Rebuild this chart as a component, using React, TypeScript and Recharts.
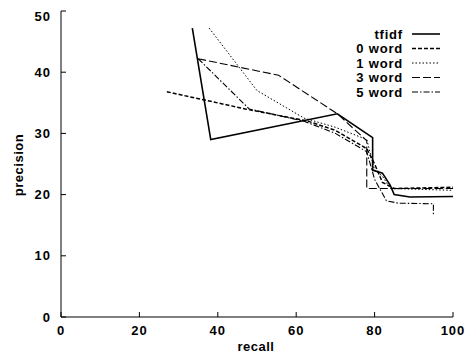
import React from 'react';
import { LineChart, Line, XAxis, YAxis, Legend } from 'recharts';

const xTicks = [0, 20, 40, 60, 80, 100];
const yTicks = [0, 10, 20, 30, 40, 50];

const tfidfRecall = [33.5, 38.2, 70.5, 79.5, 79.5, 82, 84, 85, 89, 100];
const tfidfPrecision = [47.2, 29.0, 33.2, 29.3, 24.0, 23.5, 21.5, 20.0, 19.6, 19.7];

const word0Recall = [27, 47, 63, 70, 78, 80, 82, 85, 100];
const word0Precision = [36.8, 34.0, 32.0, 30.5, 27.5, 25.0, 22.0, 21.0, 21.2];

const word1Recall = [37.8, 50, 62, 70, 78, 80, 82, 84, 100];
const word1Precision = [47.2, 37.0, 32.5, 31.0, 29.0, 24.0, 23.0, 21.0, 20.7];

const word3Recall = [35, 55.5, 70.5, 78, 78, 100];
const word3Precision = [42.2, 39.5, 33.2, 28.8, 21.0, 21.0];

const word5Recall = [35, 48, 62, 70, 78, 80, 83, 86, 95, 95];
const word5Precision = [42.2, 34.0, 32.0, 30.0, 27.0, 22.5, 19.0, 18.6, 18.5, 16.7];

const zip = (xs: number[], ys: number[]) => xs.map((x, i) => ({ x, y: ys[i] }));

const series = [
  { name: 'tfidf', data: zip(tfidfRecall, tfidfPrecision), dash: undefined as string | undefined, width: 1.6 },
  { name: '0 word', data: zip(word0Recall, word0Precision), dash: '4 2', width: 1.5 },
  { name: '1 word', data: zip(word1Recall, word1Precision), dash: '1.5 2', width: 1 },
  { name: '3 word', data: zip(word3Recall, word3Precision), dash: '8 3', width: 1.1 },
  { name: '5 word', data: zip(word5Recall, word5Precision), dash: '6 2 1.5 2', width: 1.1 },
];

const font = '"Liberation Sans", Arial, sans-serif';

const LegendBox = () => (
  <svg width={458} height={100} style={{ position: 'absolute', left: 0, top: 0, overflow: 'visible' }}>
    {series.map((s, i) => {
      const y = 26 + i * 14.5;
      return (
        <g key={s.name}>
          <text
            x={395}
            y={y + 4.5}
            textAnchor="end"
            fontFamily={font}
            fontWeight="bold"
            fontSize={13}
            letterSpacing={0.8}
            fill="#000"
          >
            {s.name}
          </text>
          <line x1={404} x2={432} y1={y} y2={y} stroke="#000" strokeWidth={s.width} strokeDasharray={s.dash} />
        </g>
      );
    })}
  </svg>
);

export default function App() {
  const tickStyle = { fontFamily: font, fontWeight: 'bold' as const, fontSize: 13, fill: '#000', letterSpacing: 1 };
  return (
    <>
      <style>{'html,body{margin:0;padding:0;overflow:hidden}'}</style>
      <div style={{ paddingLeft: 8, paddingTop: 8, width: 458, height: 348 }}>
        <LineChart
          width={458}
          height={348}
          margin={{ top: 3, right: 13, left: 0, bottom: 0 }}
        >
          <XAxis
            xAxisId="b"
            type="number"
            dataKey="x"
            domain={[0, 100]}
            ticks={xTicks}
            allowDataOverflow
            height={39}
            tickSize={-5}
            tickMargin={14}
            stroke="#000"
            tick={tickStyle}
            label={() => (
              <text x={248} y={343} textAnchor="middle" fontFamily={font} fontWeight="bold" fontSize={13} letterSpacing={0.5} fill="#000">
                recall
              </text>
            )}
          />
          <XAxis
            xAxisId="t"
            orientation="top"
            type="number"
            dataKey="x"
            domain={[0, 100]}
            ticks={xTicks}
            height={0}
            tickSize={-5}
            stroke="#000"
            tickFormatter={() => ''}
          />
          <YAxis
            yAxisId="l"
            type="number"
            domain={[0, 50]}
            ticks={yTicks}
            width={53}
            tickSize={-5}
            tickMargin={15}
            stroke="#000"
            tick={tickStyle}
            label={() => (
              <text
                x={10}
                y={157}
                transform="rotate(-90 10 157)"
                textAnchor="middle"
                dominantBaseline="central"
                fontFamily={font}
                fontWeight="bold"
                fontSize={13}
                letterSpacing={0.5}
                fill="#000"
              >
                precision
              </text>
            )}
          />
          <YAxis
            yAxisId="r"
            orientation="right"
            type="number"
            domain={[0, 50]}
            ticks={yTicks}
            width={0}
            tickSize={-5}
            stroke="#000"
            tickFormatter={() => ''}
          />
          <Legend
            layout="horizontal"
            verticalAlign="middle"
            align="center"
            wrapperStyle={{ position: 'absolute', left: 0, top: 0, width: 458, height: 100 }}
            content={() => <LegendBox />}
          />
          {series.map((s) => (
            <Line
              key={s.name}
              xAxisId="b"
              yAxisId="l"
              data={s.data}
              dataKey="y"
              name={s.name}
              type="linear"
              stroke="#000"
              strokeWidth={s.width}
              strokeDasharray={s.dash}
              dot={false}
              activeDot={false}
              isAnimationActive={false}
              legendType="none"
            />
          ))}
        </LineChart>
      </div>
    </>
  );
}
